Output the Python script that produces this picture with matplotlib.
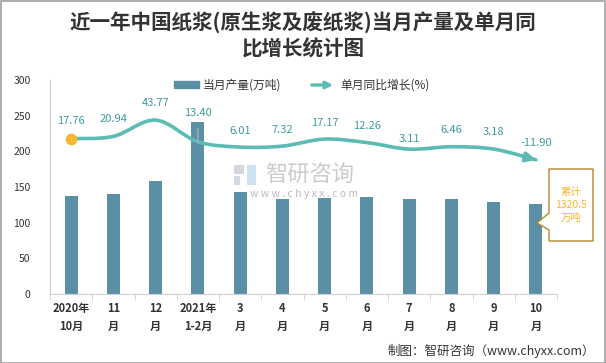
import matplotlib
matplotlib.use("Agg")
import matplotlib.pyplot as plt
import numpy as np
from matplotlib.path import Path
from matplotlib.patches import PathPatch, Rectangle, Polygon, FancyArrowPatch

plt.rcParams['font.family'] = ['Noto Sans CJK SC', 'DejaVu Sans']

# Data
months = ['2020年\n10月', '11\n月', '12\n月', '2021年\n1-2月', '3\n月', '4\n月',
          '5\n月', '6\n月', '7\n月', '8\n月', '9\n月', '10\n月']
output = [137.5, 140, 158.5, 241.5, 143, 133, 134.5, 136, 133, 133, 129, 126]
yoy = [17.76, 20.94, 43.77, 13.40, 6.01, 7.32, 17.17, 12.26, 3.11, 6.46, 3.18, -11.90]
total_label = '累计\n1320.5\n万吨'

BAR = '#5B8FA6'
LINE = '#5CBCB3'
LABEL = '#3E9AA3'
GOLD = '#F5B82E'

fig = plt.figure(figsize=(6.06, 3.63), dpi=100)
W, H = 606, 363
ax = fig.add_axes([50 / W, 1 - 294 / H, 507 / W, 214 / H])
x = np.arange(len(months))

ax.bar(x, output, width=0.31, color=BAR, zorder=2)
ax.set_xlim(-0.5, len(months) - 0.5)
ax.set_ylim(0, 300)
ax.set_yticks(range(0, 301, 50))
ax.tick_params(axis='y', length=0, labelsize=7.5, labelcolor='#333333', pad=14)
ax.set_xticks(x)
ax.set_xticklabels(months, fontsize=8, fontweight='bold', color='#333333', linespacing=1.5)
ax.tick_params(axis='x', length=0, pad=6)
ax.set_xticks(np.arange(-0.5, len(months)), minor=True)
ax.tick_params(axis='x', which='minor', length=4, color='#D0D0D0')
for s in ['top', 'right']:
    ax.spines[s].set_visible(False)
ax.spines['left'].set_color('#C8C8C8')
ax.spines['bottom'].set_color('#D0D0D0')

# secondary axis for growth (hidden)
ax2 = ax.twinx()
ax2.set_ylim(-200, 100)
ax2.axis('off')

# smooth curve via Bezier segments
pts = np.column_stack([x, yoy]).astype(float)
n = len(pts)
verts = [tuple(pts[0])]
codes = [Path.MOVETO]
for i in range(n - 1):
    p0 = pts[i - 1] if i > 0 else pts[i]
    p1 = pts[i]
    p2 = pts[i + 1]
    p3 = pts[i + 2] if i + 2 < n else pts[i + 1]
    c1 = p1 + (p2 - p0) / 6
    c2 = p2 - (p3 - p1) / 6
    verts += [tuple(c1), tuple(c2), tuple(p2)]
    codes += [Path.CURVE4] * 3
ax2.add_patch(PathPatch(Path(verts, codes), facecolor='none', edgecolor=LINE,
                        lw=2.6, capstyle='round', zorder=3))
ax2.annotate('', xy=(x[-1], yoy[-1]), xytext=(x[-1] - 0.3, yoy[-1] + (yoy[-2] - yoy[-1]) * 0.3),
             arrowprops=dict(arrowstyle='-|>', mutation_scale=14, color=LINE, lw=2.6,
                             shrinkA=0, shrinkB=0), zorder=4)
ax2.scatter([x[0]], [yoy[0]], s=55, color=GOLD, zorder=5)

offsets = [18, 17, 17, 29, 16, 16, 16, 17, 10, 17, 17, 17]
for i, v in enumerate(yoy):
    if i == 3:
        ax2.annotate(f'{v:.2f}', xy=(x[i], v), xytext=(0, offsets[i]), textcoords='offset pixels',
                     ha='center', va='center', fontsize=8, color=LABEL,
                     arrowprops=dict(arrowstyle='-', color='#BBBBBB', lw=0.8, shrinkA=6, shrinkB=0))
    else:
        ax2.annotate(f'{v:.2f}', xy=(x[i], v), xytext=(0, offsets[i]), textcoords='offset pixels',
                     ha='center', va='center', fontsize=8, color=LABEL)

# title
fig.text(0.5, 1 - 23 / H, '近一年中国纸浆(原生浆及废纸浆)当月产量及单月同', ha='center', va='center',
         fontsize=14.8, fontweight='bold', color='#333333')
fig.text(0.5, 1 - 49 / H, '比增长统计图', ha='center', va='center',
         fontsize=14.8, fontweight='bold', color='#333333')

# legend
fig.patches.append(Rectangle((174 / W, 1 - 88 / H), 25 / W, 7 / H, color=BAR, transform=fig.transFigure))
fig.text(203 / W, 1 - 85 / H, '当月产量(万吨)', ha='left', va='center', fontsize=8.5, color='#333333')
fig.patches.append(FancyArrowPatch((309 / W, 1 - 85 / H), (336 / W, 1 - 85 / H), transform=fig.transFigure,
                                   arrowstyle='-|>', mutation_scale=10, color=LINE, lw=2.4))
fig.text(340 / W, 1 - 85 / H, '单月同比增长(%)', ha='left', va='center', fontsize=8.5, color='#333333')

# watermark
fig.text(265 / W, 1 - 175 / H, '智研咨询', ha='left', va='center', fontsize=16, color='#BEBEBE',
         alpha=0.8, zorder=10)
fig.text(304 / W, 1 - 194 / H, 'w w w . c h y x x . c o m', ha='center', va='center', fontsize=7.5,
         color='#AAAAAA', alpha=0.8, zorder=10)
for rx, ry, rw, rh, rc in [(234, 165, 10, 9, '#C9CED8'), (234, 176, 6, 9, '#C9CED8'),
                           (247, 165, 9, 20, '#BFDBEE')]:
    fig.patches.append(Rectangle((rx / W, 1 - (ry + rh) / H), rw / W, rh / H, facecolor=rc,
                                 edgecolor='none', alpha=0.8, transform=fig.transFigure, zorder=10))

# cumulative callout
poly = Polygon([(549 / W, 1 - 169 / H), (593 / W, 1 - 169 / H), (593 / W, 1 - 241 / H),
                (549 / W, 1 - 241 / H), (549 / W, 1 - 230 / H), (537 / W, 1 - 223 / H),
                (549 / W, 1 - 213 / H)], closed=True, facecolor='white', edgecolor='#B8862B',
               lw=1.0, transform=fig.transFigure, zorder=6)
fig.patches.append(poly)
fig.text(571 / W, 1 - 205 / H, total_label, ha='center', va='center', fontsize=7.5, color=GOLD,
         linespacing=1.35, zorder=7)

# footer
fig.text(595 / W, 1 - 351 / H, '制图：智研咨询（www.chyxx.com）', ha='right', va='center',
         fontsize=9, color='#333333')

# border
fig.patches.append(Rectangle((0.5 / W, 0.5 / H), 1 - 1.5 / W, 1 - 1.5 / H, fill=False,
                             edgecolor='#A0A0A0', lw=1.2, transform=fig.transFigure))

fig.savefig('out.png', dpi=100)
